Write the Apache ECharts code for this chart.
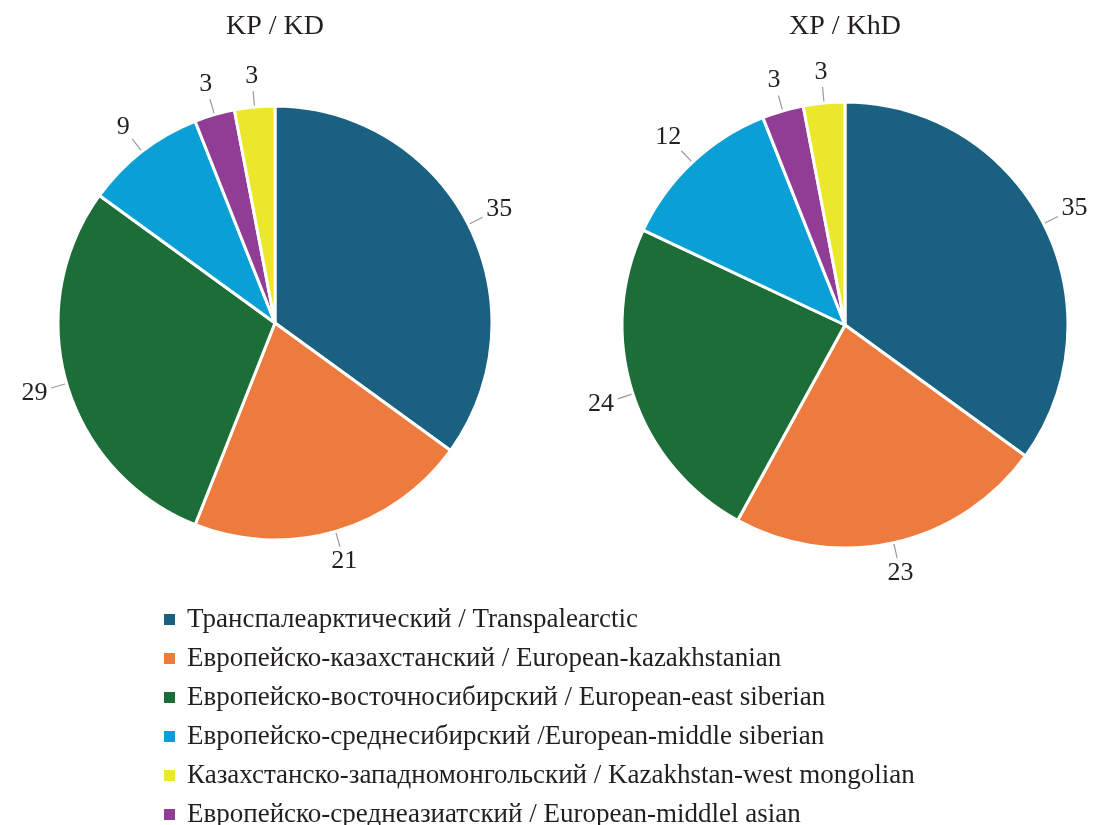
<!DOCTYPE html>
<html>
<head>
<meta charset="utf-8">
<script src="https://cdn.jsdelivr.net/npm/echarts@6/dist/echarts.min.js"></script>
<style>
  html, body { margin: 0; padding: 0; background: #fff; }
  #chart { width: 1094px; height: 825px; }
</style>
</head>
<body>
<div id="chart"></div>
<script>
// Chorotype groups, in slice order (clockwise from 12 o'clock)
const categories = [
  'Транспалеарктический / Transpalearctic',
  'Европейско-казахстанский / European-kazakhstanian',
  'Европейско-восточносибирский / European-east siberian',
  'Европейско-среднесибирский /European-middle siberian',
  'Европейско-среднеазиатский / European-middlel asian',
  'Казахстанско-западномонгольский / Kazakhstan-west mongolian'
];
const colors = ['#1a6181', '#ee7b3e', '#1c6d38', '#0aa0d5', '#923d95', '#ebe72b'];

// Legend order
const legendOrder = [0, 1, 2, 3, 5, 4];

// Percent shares per region
const titles = ['KP / KD', 'XP / KhD'];
const valuesKP = [35, 21, 29, 9, 3, 3];
const valuesXP = [35, 23, 24, 12, 3, 3];

const font = '"Liberation Serif", "DejaVu Serif", serif';
const textColor = '#231f20';

// Put each value label just past the end of a short radial leader line
function radialLabel(params) {
  const pts = params.labelLinePoints;
  if (!pts) return {};
  const p0 = pts[0], p1 = pts[1];
  let ux = p1[0] - p0[0], uy = p1[1] - p0[1];
  const len = Math.hypot(ux, uy) || 1;
  ux /= len; uy /= len;
  const hw = params.labelRect.width / 2;
  const hh = params.labelRect.height / 2 - 2;
  const ext = Math.min(
    Math.abs(ux) > 1e-6 ? hw / Math.abs(ux) : Infinity,
    Math.abs(uy) > 1e-6 ? hh / Math.abs(uy) : Infinity
  );
  const gap = 4;
  return {
    x: p1[0] + ux * (ext + gap),
    y: p1[1] + uy * (ext + gap),
    align: 'center',
    verticalAlign: 'middle',
    labelLinePoints: [p0, p1, p1]
  };
}

function pieSeries(values, center, radius) {
  return {
    type: 'pie',
    center: center,
    radius: radius,
    startAngle: 90,
    clockwise: true,
    avoidLabelOverlap: false,
    data: values.map((v, i) => ({
      name: categories[i],
      value: v,
      itemStyle: { color: colors[i] }
    })),
    itemStyle: { borderColor: '#fff', borderWidth: 3 },
    label: {
      show: true,
      position: 'outside',
      formatter: '{c}',
      fontFamily: font,
      fontSize: 26,
      color: textColor,
      overflow: 'none'
    },
    labelLine: {
      show: true,
      length: 16,
      length2: 0,
      lineStyle: { color: '#9a9a9a', width: 1.2 }
    },
    labelLayout: radialLabel,
    emphasis: { disabled: true }
  };
}

const titleStyle = { fontFamily: font, fontSize: 28, fontWeight: 'normal', color: textColor };

const chart = echarts.init(document.getElementById('chart'));
chart.setOption({
  animation: false,
  backgroundColor: '#fff',
  title: [
    { text: titles[0], left: 275, top: 13, padding: 0, textAlign: 'center', textStyle: titleStyle },
    { text: titles[1], left: 845, top: 13, padding: 0, textAlign: 'center', textStyle: titleStyle }
  ],
  legend: {
    orient: 'vertical',
    left: 162,
    top: 606,
    height: 260,
    padding: 0,
    icon: 'rect',
    itemWidth: 13,
    itemHeight: 13,
    itemGap: 12,
    data: legendOrder.map(i => categories[i]),
    textStyle: { fontFamily: font, fontSize: 27, lineHeight: 26, color: textColor, padding: [0, 0, 0, 6] },
    selectedMode: false
  },
  series: [
    pieSeries(valuesKP, [275, 323], 217),
    pieSeries(valuesXP, [845, 325], 223)
  ]
});
</script>
</body>
</html>
